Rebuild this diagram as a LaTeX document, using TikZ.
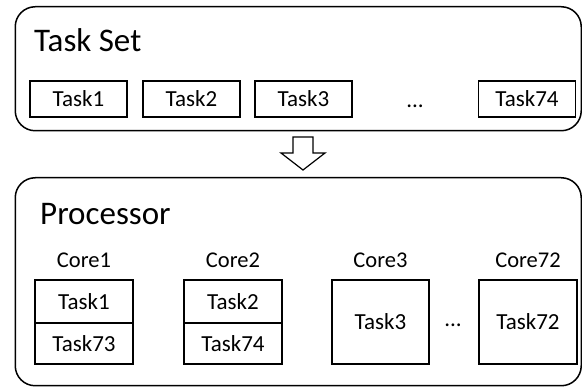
\documentclass[tikz,border=0pt]{standalone}
\usepackage{fontspec}
\setmainfont{Carlito}
\begin{document}
\begin{tikzpicture}[x=1pt,y=-1pt,
  outer/.style={draw, line width=1.5pt, rounded corners=20pt, anchor=north west, inner sep=0pt},
  tbox/.style={draw, line width=1.2pt, minimum width=97pt, minimum height=36pt, inner sep=0pt, font=\fontsize{23}{27}\selectfont},
  cbox/.style={draw, line width=1.2pt, minimum width=98pt, inner sep=0pt, font=\fontsize{23}{27}\selectfont},
  lbl/.style={inner sep=0pt, font=\fontsize{22.5}{27}\selectfont, anchor=base},
  big/.style={inner sep=0pt, font=\fontsize{33}{40}\selectfont, anchor=base west},
  dots/.style={inner sep=0pt, font=\fontsize{23}{27}\selectfont, anchor=base},
  blockarrow/.style={draw, line width=1.2pt, fill=white, line join=miter}
]
\useasboundingbox (0,0) rectangle (582,387);
% outer containers
\node[outer, minimum width=566pt, minimum height=124pt] (taskset) at (14.5,6) {};
\node[outer, minimum width=566pt, minimum height=208pt] (proc) at (14.5,177) {};
% titles
\node[big] (tsl) at (34,52) {Task Set};
\node[big] (pl) at (40,225) {Processor};
% task set boxes
\node[tbox] (t1) at (78.5,99) {Task1};
\node[tbox] (t2) at (191.5,99) {Task2};
\node[tbox] (t3) at (303.5,99) {Task3};
\node[dots] (td) at (415,108) {...};
\node[tbox] (t74) at (527,99) {Task74};
% block arrow
\draw[blockarrow] (293,137) -- (313,137) -- (313,153) -- (325,153) -- (303,170) -- (281,153) -- (293,153) -- cycle;
% cores
\node[lbl] (c1l) at (84,268) {Core1};
\node[lbl] (c2l) at (233,268) {Core2};
\node[lbl] (c3l) at (380.5,268) {Core3};
\node[lbl] (c72l) at (528,268) {Core72};
\node[cbox, minimum height=43pt] (c1a) at (84,301.5) {Task1};
\node[cbox, minimum height=41pt] (c1b) at (84,343.5) {Task73};
\node[cbox, minimum height=43pt] (c2a) at (233,301.5) {Task2};
\node[cbox, minimum height=41pt] (c2b) at (233,343.5) {Task74};
\node[cbox, minimum height=84pt, minimum width=97pt] (c3) at (380.5,322) {Task3};
\node[dots] (cd) at (453,327) {...};
\node[cbox, minimum height=84pt] (c72) at (528,322) {Task72};
\end{tikzpicture}
\end{document}
